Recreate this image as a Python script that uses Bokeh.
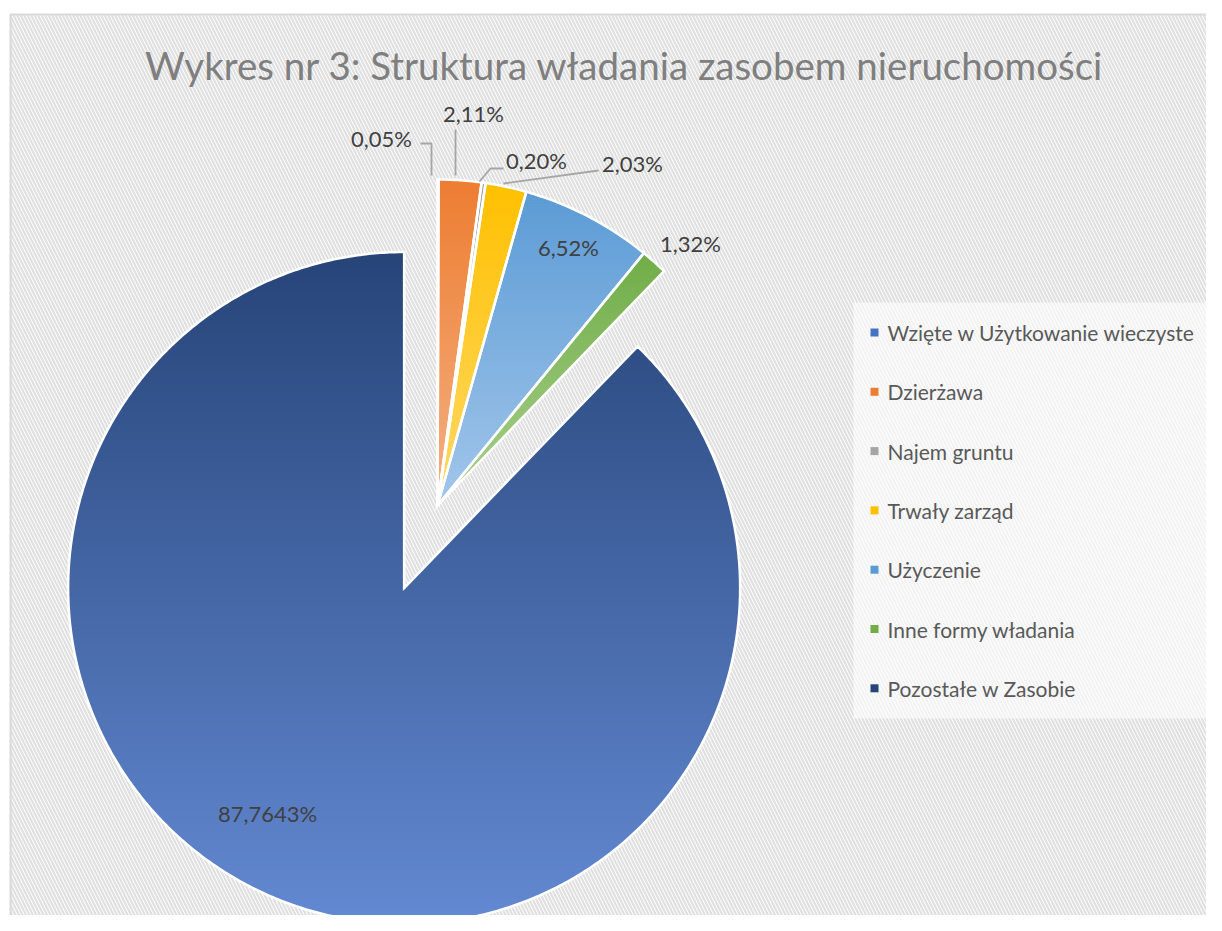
import numpy as np
from bokeh.plotting import figure
from bokeh.models import Range1d, ColumnDataSource
from bokeh.embed import file_html
from bokeh.resources import INLINE
from bokeh.core.properties import value

# ---------------- data ----------------
title = "Wykres nr 3: Struktura władania zasobem nieruchomości"
categories = ["Wzięte w Użytkowanie wieczyste", "Dzierżawa", "Najem gruntu",
              "Trwały zarząd", "Użyczenie", "Inne formy władania", "Pozostałe w Zasobie"]
shares = [0.05, 2.11, 0.20, 2.03, 6.52, 1.32, 87.7643]
labels = ["0,05%", "2,11%", "0,20%", "2,03%", "6,52%", "1,32%", "87,7643%"]

# ---------------- style ----------------
legend_colors = ["#4472C4", "#ED7D31", "#A5A5A5", "#FFC000", "#5B9BD5", "#70AD47", "#264478"]
grad_top = ["#4472C4", "#ED7D31", "#A5A5A5", "#FFC000", "#5B9BD5", "#70AD47", "#264478"]
grad_bot = ["#8FAADC", "#F4B183", "#C9C9C9", "#FFD966", "#A2C6EA", "#A9D18E", "#6389D2"]
FONT = "Lato"
CX, CY = 437.0, 505.0          # pie centre (image pixels, y down)
R_SMALL, R_BIG = 326.0, 336.0
EXPLODE_BIG = 89.0

W, H = 1206, 915
p = figure(width=W, height=H, output_backend="svg", toolbar_location=None,
           x_range=Range1d(0, W), y_range=Range1d(H, 0),
           min_border=0, outline_line_color=None, background_fill_color="white",
           border_fill_color="white")
p.axis.visible = False
p.grid.visible = False

# chart area with hatched background and thin grey border
p.quad(left=10, right=1260, top=14, bottom=960, fill_color="white",
       hatch_pattern="\\", hatch_color="#E0E0E0", hatch_scale=7, hatch_weight=2.2,
       line_color="#D9D9D9", line_width=2)


def hex2rgb(h):
    h = h.lstrip("#")
    return np.array([int(h[i:i + 2], 16) for i in (0, 2, 4)], dtype=float)


def rgb2hex(c):
    c = np.clip(np.round(c), 0, 255).astype(int)
    return "#%02x%02x%02x" % tuple(c)


def clip_half(pts, yc, keep_ge):
    out = []
    n = len(pts)
    for i in range(n):
        cur, prev = pts[i], pts[i - 1]
        cin = cur[1] >= yc if keep_ge else cur[1] <= yc
        pin = prev[1] >= yc if keep_ge else prev[1] <= yc
        if cin:
            if not pin:
                t = (yc - prev[1]) / (cur[1] - prev[1])
                out.append((prev[0] + t * (cur[0] - prev[0]), yc))
            out.append(cur)
        elif pin:
            t = (yc - prev[1]) / (cur[1] - prev[1])
            out.append((prev[0] + t * (cur[0] - prev[0]), yc))
    return out


total = sum(shares)
cum = np.concatenate([[0.0], np.cumsum(shares)]) / total * 2 * np.pi

band_xs, band_ys, band_cols = [], [], []
out_xs, out_ys = [], []
for i, s in enumerate(shares):
    a0, a1 = cum[i], cum[i + 1]
    mid = 0.5 * (a0 + a1)
    big = i == len(shares) - 1
    r = R_BIG if big else R_SMALL
    off = EXPLODE_BIG if big else 0.0
    cx = CX + off * np.sin(mid)
    cy = CY - off * np.cos(mid)
    n = max(3, int(np.degrees(a1 - a0) * 2))
    th = np.linspace(a0, a1, n)
    pts = [(cx, cy)] + [(cx + r * np.sin(t), cy - r * np.cos(t)) for t in th]
    out_xs.append([q[0] for q in pts])
    out_ys.append([q[1] for q in pts])
    ymin = min(q[1] for q in pts)
    ymax = max(q[1] for q in pts)
    ctop, cbot = hex2rgb(grad_top[i]), hex2rgb(grad_bot[i])
    step = 3.0
    y0 = ymin
    while y0 < ymax:
        y1 = min(y0 + step + 0.9, ymax)
        poly = clip_half(pts, y0, True)
        if poly:
            poly = clip_half(poly, y1, False)
        if len(poly) >= 3:
            t = ((y0 + y1) / 2 - ymin) / max(ymax - ymin, 1e-6)
            band_xs.append([q[0] for q in poly])
            band_ys.append([q[1] for q in poly])
            band_cols.append(rgb2hex(ctop + (cbot - ctop) * t))
        y0 += step

p.patches(xs="xs", ys="ys", fill_color="c", line_color=None,
          source=ColumnDataSource(dict(xs=band_xs, ys=band_ys, c=band_cols)))
p.patches(xs=out_xs, ys=out_ys, fill_color=None, line_color="white", line_width=2.5,
          line_join="miter")

# leader lines (offsets from pie centre)
leaders = {
    0: [(-17, -362), (-6, -362), (-6, -330)],
    1: [(18, -376), (18, -330)],
    2: [(42, -324), (53, -337), (66, -337)],
    3: [(66, -322), (161, -335)],
}
lx = [[CX + d[0] for d in v] for v in leaders.values()]
ly = [[CY + d[1] for d in v] for v in leaders.values()]
p.multi_line(xs=lx, ys=ly, line_color="#A6A6A6", line_width=1.8)

# data labels (offsets from pie centre)
label_off = [(-56, -367), (36, -392), (99, -345), (195, -342), (131, -258), (253, -262), (-170, 308)]
p.text(x=[CX + o[0] for o in label_off], y=[CY + o[1] for o in label_off], text=labels,
       text_font=value(FONT), text_font_size="22px", text_color="#404040",
       text_align="center", text_baseline="middle")

# title
p.text(x=[624], y=[64], text=[title], text_font=value(FONT), text_font_size="38.5px",
       text_color="#7F7F7F", text_align="center", text_baseline="middle")

# legend
p.quad(left=853, right=1215, top=302, bottom=718, fill_color="white", fill_alpha=0.6,
       line_color=None)
ly0, ldy = 332.0, 59.3
rows = [ly0 + k * ldy for k in range(len(categories))]
p.scatter(x=[874] * len(categories), y=rows, marker="square", size=8,
          fill_color=legend_colors, line_color=None)
p.text(x=[887] * len(categories), y=rows, text=categories, text_font=value(FONT),
       text_font_size="21px", text_color="#595959", text_align="left",
       text_baseline="middle")

open("out.html", "w").write(file_html(p, INLINE))
